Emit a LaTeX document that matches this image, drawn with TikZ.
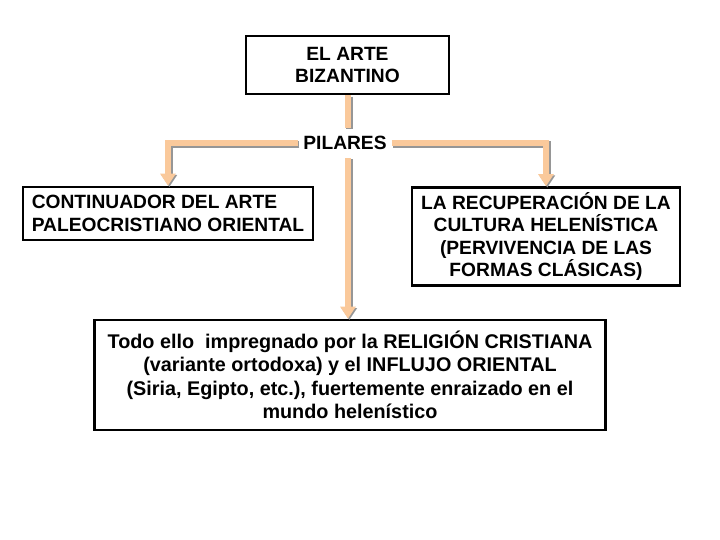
\documentclass[tikz,border=0pt]{standalone}
\usepackage{fontspec}
\setmainfont{Liberation Sans}
\usepackage{tikz}
\usetikzlibrary{positioning,arrows.meta}
\definecolor{peach}{RGB}{250,201,155}
\definecolor{pipeshade}{RGB}{150,150,150}
\tikzset{
  pipe/.style={peach, line width=6.5pt,
    preaction={draw=pipeshade, line width=6.5pt, transform canvas={shift={(1.3pt,-1.3pt)}}}},
  pipearrow/.style={pipe, -{Triangle[width=15pt, length=12pt]}},
  conbox/.style={draw, line width=2.6pt, fill=white, align=center, inner sep=4pt,
    font=\bfseries\fontsize{19.2}{22.5}\selectfont},
  label/.style={fill=white, inner sep=5pt, font=\bfseries\fontsize{19.2}{22.5}\selectfont}
}
\begin{document}
\begin{tikzpicture}[x=1pt, y=-1pt]
  \useasboundingbox (0,0) rectangle (720,540);
  % nodes
  \node[conbox, minimum width=203, minimum height=58] (arte) at (347.5,65) {EL ARTE\\BIZANTINO};
  \node[label] (pil) at (345,143) {PILARES};
  \node[conbox, align=left, minimum width=290, minimum height=53] (cont) at (168,213.5) {CONTINUADOR DEL ARTE\\PALEOCRISTIANO ORIENTAL};
  \node[conbox, minimum width=268, minimum height=98] (recup) at (546,236.5) {LA RECUPERACI\'ON DE LA\\CULTURA HELEN\'ISTICA\\(PERVIVENCIA DE LAS\\FORMAS CL\'ASICAS)};
  \node[conbox, minimum width=511, minimum height=110, font=\bfseries\fontsize{19.8}{23.5}\selectfont] (todo) at (350,375) {Todo ello\ \ impregnado por la RELIGI\'ON CRISTIANA\\(variante ortodoxa) y el INFLUJO ORIENTAL\\(Siria, Egipto, etc.), fuertemente enraizado en el\\mundo helen\'istico};
  % connectors
  \draw[pipe] (arte.south -| 348,0) -- (348,128);
  \draw[pipearrow] (pil.west) -| (cont.north);
  \draw[pipearrow] (pil.east) -| (recup.north);
  \draw[pipearrow] (348,158) -- (todo.north -| 348,0);
\end{tikzpicture}
\end{document}
